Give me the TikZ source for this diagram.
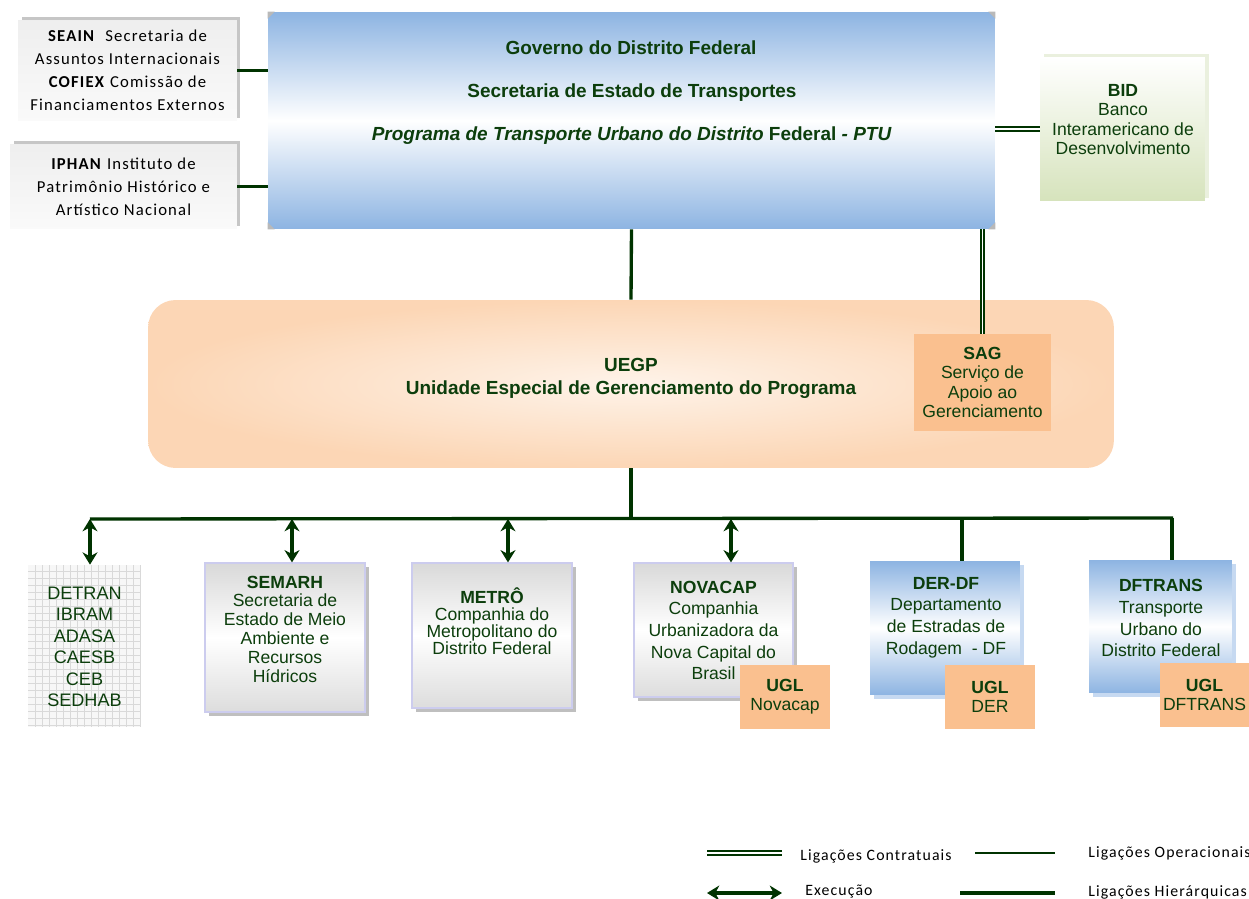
\documentclass[tikz,border=0pt]{standalone}
\usepackage{fontspec}
\setmainfont{Liberation Sans}
\newfontfamily\calibri[LetterSpace=7]{Carlito}
\usetikzlibrary{positioning,arrows.meta,shadows}
\definecolor{txtgreen}{RGB}{12,62,12}
\definecolor{linegreen}{RGB}{0,51,0}
\definecolor{blueA}{RGB}{141,180,226}
\definecolor{blueshadow}{RGB}{198,217,241}
\definecolor{orangeA}{RGB}{250,192,143}
\definecolor{uegpIn}{RGB}{254,243,233}
\definecolor{uegpOut}{RGB}{252,214,181}
\definecolor{bidgreen}{RGB}{214,227,188}
\definecolor{bidshadow}{RGB}{234,240,222}
\definecolor{boxborder}{RGB}{204,204,238}
\tikzset{
  hierline/.style={draw=linegreen, line width=1.9pt},
  operline/.style={draw=linegreen, line width=1.3pt},
  contract/.style={draw=linegreen, line width=1.05pt, double=white, double distance=1.1pt},
  execarrow/.style={{Stealth[length=7pt,width=8.5pt]}-{Stealth[length=7pt,width=8.5pt]}, draw=linegreen, line width=2.4pt},
  sidebox/.style={top color=gray!13, bottom color=gray!4, general shadow={fill=gray!45, shadow xshift=2pt, shadow yshift=1.8pt}, inner sep=0pt, align=center, font=\calibri\fontsize{9.5}{13}\selectfont},
  govbox/.style={top color=blueA, bottom color=blueA, middle color=white, inner sep=0pt},
  bidbox/.style={top color=white, bottom color=bidgreen, general shadow={fill=bidshadow, shadow xshift=2.5pt, shadow yshift=1.8pt}, inner sep=0pt},
  uegpbox/.style={inner color=uegpIn, outer color=uegpOut, rounded corners=0.55cm, inner sep=0pt},
  uglbox/.style={fill=orangeA, inner sep=0pt, align=center, text=txtgreen, font=\fontsize{10}{10.8}\selectfont},
  graybox/.style={draw=boxborder, line width=0.7pt, top color=gray!30, bottom color=gray!27, middle color=white, general shadow={fill=gray!50, shadow xshift=2.5pt, shadow yshift=-2.5pt}, inner sep=0pt},
  bluebox/.style={top color=blueA, bottom color=blueA, middle color=white, general shadow={fill=blueshadow, shadow xshift=2.5pt, shadow yshift=-2.5pt}, inner sep=0pt},
  gridbox/.style={fill=gray!6, inner sep=0pt},
  gridline/.style={draw=gray!30, line width=0.4pt},
  orgtxt/.style={text=txtgreen, align=center, inner sep=0pt, font=\fontsize{10}{12.3}\selectfont},
  govtxt/.style={text=txtgreen, inner sep=0pt, font=\bfseries\fontsize{10.8}{13}\selectfont},
  legtxt/.style={anchor=west, inner sep=0pt, font=\calibri\fontsize{9}{11}\selectfont}
}
\begin{document}
\begin{tikzpicture}[x=0.02cm, y=-0.02cm]
  \useasboundingbox (0,0) rectangle (1249,899);
  % upper level
  \node[sidebox, minimum width=4.38cm, minimum height=2.02cm] (seain) at (127.5,70.5) {\textbf{SEAIN}\ \ Secretaria de\\Assuntos Internacionais\\\textbf{COFIEX}\ Comissão de\\Financiamentos Externos};
  \node[sidebox, minimum width=4.54cm, minimum height=1.70cm] (iphan) at (123.5,186.5) {\textbf{IPHAN}\ Instituto de\\Patrimônio Histórico e\\Artístico Nacional};
  \node[govbox, minimum width=14.54cm, minimum height=4.34cm] (gdf) at (631.5,120.5) {};
  \fill[gray!55] (gdf.north west) -- ++(7,0) -- ++(-7,7) -- cycle;
  \fill[gray!55] (gdf.south west) -- ++(7,0) -- ++(-7,-7) -- cycle;
  \fill[gray!55] (gdf.north east) -- ++(-7,0) -- ++(7,7) -- cycle;
  \fill[gray!55] (gdf.south east) -- ++(-7,0) -- ++(7,-7) -- cycle;
  \node[govtxt] (gdfname) at (631,48) {Governo do Distrito Federal};
  \node[govtxt] (setrans) at (632,93) {Secretaria de Estado de Transportes};
  \node[govtxt] (ptu) at (631.5,136) {\itshape Programa de Transporte Urbano do Distrito \upshape Federal \itshape - PTU};
  \node[bidbox, minimum width=3.3cm, minimum height=2.88cm] (bid) at (1122.5,129) {};
  \node[orgtxt, font=\fontsize{10}{11}\selectfont] (bidtxt) at (1123,119.5) {\textbf{BID}\\Banco\\Interamericano de\\Desenvolvimento};

  % UEGP
  \node[uegpbox, minimum width=19.32cm, minimum height=3.36cm] (uegp) at (631,384) {};
  \node[govtxt, align=center] (uegptxt) at (631,378.5) {UEGP\\Unidade Especial de Gerenciamento do Programa};
  \node[uglbox, minimum width=2.74cm, minimum height=1.94cm, font=\fontsize{10}{11.1}\selectfont] (sag) at (982.5,382.5) {\textbf{SAG}\\Serviço de\\Apoio ao\\Gerenciamento};

  \draw[operline] (seain.east) -- (seain.east -| gdf.west);
  \draw[operline] (iphan.east) -- (iphan.east -| gdf.west);
  \draw[contract] (bid.west) -- (bid.west -| gdf.east);
  \draw[hierline] (gdf.south) -- (uegp.north);
  \draw[contract] (sag.north) -- (sag.north |- gdf.south);

  % executing bodies
  \node[gridbox, minimum width=2.26cm, minimum height=3.24cm] (detran) at (84.5,646) {};
  \foreach \gx in {35,42,...,140} \draw[gridline] (\gx,565) -- (\gx,727);
  \foreach \gy in {571,578,...,726} \draw[gridline] (28,\gy) -- (141,\gy);
  \node[orgtxt, font=\fontsize{10.3}{12.2}\selectfont] (detrantxt) at (84.5,647) {DETRAN\\IBRAM\\ADASA\\CAESB\\CEB\\SEDHAB};
  \node[graybox, minimum width=3.2cm, minimum height=2.98cm] (semarh) at (285,637.5) {};
  \node[orgtxt, font=\fontsize{10}{10.7}\selectfont] (semarhtxt) at (285,629) {\textbf{SEMARH}\\Secretaria de\\Estado de Meio\\Ambiente e\\Recursos\\Hídricos};
  \node[graybox, minimum width=3.2cm, minimum height=2.9cm] (metro) at (492,635.5) {};
  \node[orgtxt, font=\fontsize{10}{9.7}\selectfont] (metrotxt) at (492,621.5) {\textbf{METRÔ}\\Companhia do\\Metropolitano do\\Distrito Federal};
  \node[graybox, minimum width=3.18cm, minimum height=2.68cm] (novacap) at (713.5,630) {};
  \node[orgtxt] (novacaptxt) at (713.5,630.5) {\textbf{NOVACAP}\\Companhia\\Urbanizadora da\\Nova Capital do\\Brasil};
  \node[bluebox, minimum width=3.0cm, minimum height=2.68cm] (der) at (945,628) {};
  \node[orgtxt] (dertxt) at (946,617.5) {\textbf{DER-DF}\\Departamento\\de Estradas de\\Rodagem\ \ - DF};
  \node[bluebox, minimum width=2.86cm, minimum height=2.66cm] (dftrans) at (1160.5,626.5) {};
  \node[orgtxt, font=\fontsize{10}{12.5}\selectfont] (dftranstxt) at (1161,618) {\textbf{DFTRANS}\\Transporte\\Urbano do\\Distrito Federal};
  \node[uglbox, minimum width=1.8cm, minimum height=1.28cm] (uglnovacap) at (785,697) {\textbf{UGL}\\Novacap};
  \node[uglbox, minimum width=1.8cm, minimum height=1.28cm] (uglder) at (990,697) {\textbf{UGL}\\DER};
  \node[uglbox, minimum width=1.78cm, minimum height=1.28cm] (ugldftrans) at (1204.5,695) {\textbf{UGL}\\DFTRANS};

  % bus
  \coordinate (busL) at (90,519);
  \coordinate (busR) at (1173,518);
  \draw[hierline] (uegp.south) -- (uegp.south |- busL);
  \draw[hierline] (busL) -- (busR);
  \foreach \tap/\org in {90/detran, 292/semarh, 508/metro, 731/novacap}{
    \coordinate (tap\org) at (\tap,519);
    \draw[execarrow] (tap\org) -- (tap\org |- \org.north);
  }
  \foreach \tap/\org in {962/der, 1172/dftrans}{
    \coordinate (tap\org) at (\tap,518);
    \draw[hierline] (tap\org) -- (tap\org |- \org.north);
  }

  % legend
  \coordinate (lgc1) at (707,853); \coordinate (lgc2) at (782,853);
  \coordinate (lgo1) at (975,853); \coordinate (lgo2) at (1055,853);
  \coordinate (lge1) at (707,893); \coordinate (lge2) at (782,893);
  \coordinate (lgh1) at (960,893); \coordinate (lgh2) at (1055,893);
  \draw[contract] (lgc1) -- (lgc2);
  \draw[operline] (lgo1) -- (lgo2);
  \draw[execarrow] (lge1) -- (lge2);
  \draw[hierline] (lgh1) -- (lgh2);
  \node[legtxt] (lgctxt) at (800,856) {Ligações Contratuais};
  \node[legtxt] (lgotxt) at (1088,853) {Ligações Operacionais};
  \node[legtxt] (lgetxt) at (805,892) {Execução};
  \node[legtxt] (lghtxt) at (1088,892) {Ligações Hierárquicas};
\end{tikzpicture}
\end{document}
